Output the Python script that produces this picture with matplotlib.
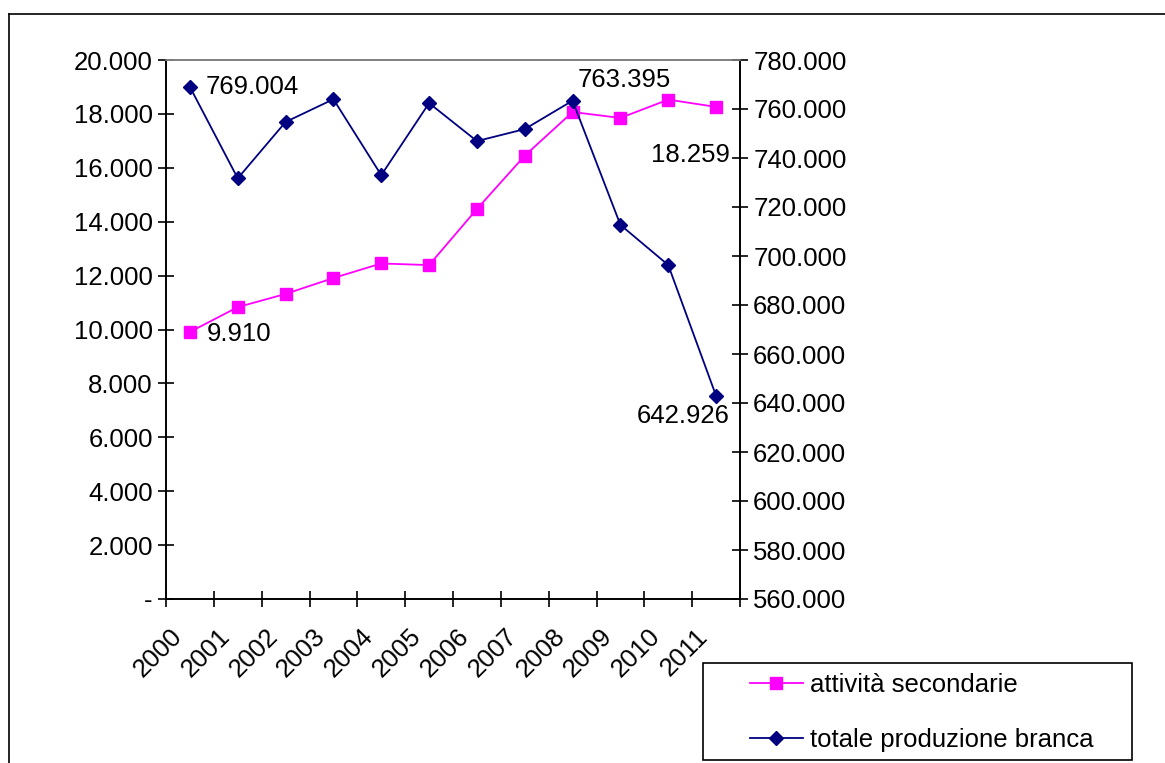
import matplotlib.pyplot as plt
from matplotlib.lines import Line2D
from matplotlib.patches import Rectangle
from matplotlib.ticker import FuncFormatter

plt.rcParams['font.family'] = ['Liberation Sans', 'DejaVu Sans']

years = ['2000', '2001', '2002', '2003', '2004', '2005',
         '2006', '2007', '2008', '2009', '2010', '2011']
attivita_secondarie = [9910, 10830, 11320, 11910, 12450, 12390,
                       14470, 16450, 18070, 17850, 18530, 18259]
totale_produzione = [769004, 731700, 754700, 764000, 733000, 762400,
                     746900, 751800, 763395, 712700, 696300, 642926]

PINK = '#FF00FF'
NAVY = '#000080'
FS = 18.5
W, H = 1165, 763


def fmt_thousands(v, pos=None):
    if abs(v) < 0.5:
        return '-'
    return f'{int(round(v)):,}'.replace(',', '.')


fig = plt.figure(figsize=(W / 100, H / 100), dpi=100)
ax = fig.add_axes([166 / W, 1 - 599 / H, (740 - 166) / W, (599 - 60) / H])
ax2 = ax.twinx()

x = list(range(len(years)))
ax.plot(x, attivita_secondarie, color=PINK, marker='s', markersize=8, lw=1.3,
        label='attività secondarie', zorder=3)
ax2.plot(x, totale_produzione, color=NAVY, marker='D', markersize=7, lw=1.3,
         label='totale produzione branca', zorder=3)

ax.set_xlim(-0.5, len(years) - 0.5)
ax.set_ylim(0, 20000)
ax.set_yticks(range(0, 20001, 2000))
ax.yaxis.set_major_formatter(FuncFormatter(fmt_thousands))
ax2.set_ylim(560000, 780000)
ax2.set_yticks(range(560000, 780001, 20000))
ax2.yaxis.set_major_formatter(FuncFormatter(fmt_thousands))

# tick marks on category boundaries, labels (invisible minor ticks) a bit
# left of the centre so the rotated text ends under the category
ax.set_xticks([i - 0.5 for i in range(len(years) + 1)])
ax.set_xticklabels([])
ax.set_xticks([i - 0.42 for i in x], minor=True)
ax.set_xticklabels(years, minor=True, rotation=45, ha='right',
                   rotation_mode='anchor', fontsize=FS)
ax.tick_params(axis='x', which='major', direction='inout', length=11, width=1.2)
ax.tick_params(axis='x', which='minor', length=0, pad=18)
ax.tick_params(axis='y', direction='inout', length=11, width=1.2, labelsize=FS, pad=4)
ax2.tick_params(axis='y', direction='inout', length=11, width=1.2, labelsize=FS, pad=4)

for a in (ax, ax2):
    for side in ('left', 'right', 'bottom'):
        a.spines[side].set_color('black')
        a.spines[side].set_linewidth(1.2)
    a.spines['top'].set_color('#808080')
    a.spines['top'].set_linewidth(1.2)

# data labels
k = 72 / 100
ax2.annotate('769.004', (0, totale_produzione[0]), xytext=(16 * k, 0),
             textcoords='offset points', ha='left', va='center', fontsize=FS)
ax2.annotate('763.395', (8, totale_produzione[8]), xytext=(5 * k, 21 * k),
             textcoords='offset points', ha='left', va='center', fontsize=FS)
ax2.annotate('642.926', (11, totale_produzione[11]), xytext=(-33 * k, -20 * k),
             textcoords='offset points', ha='center', va='center', fontsize=FS)
ax.annotate('9.910', (0, attivita_secondarie[0]), xytext=(17 * k, -2 * k),
            textcoords='offset points', ha='left', va='center', fontsize=FS)
ax.annotate('18.259', (11, attivita_secondarie[11]), xytext=(14 * k, -48 * k),
            textcoords='offset points', ha='right', va='center', fontsize=FS)

# legend: entries without frame, box drawn separately
h1, l1 = ax.get_legend_handles_labels()
h2, l2 = ax2.get_legend_handles_labels()
fig.legend(h1 + h2, l1 + l2, loc='center left',
           bbox_to_anchor=(750 / W, 1 - 712.5 / H), fontsize=FS,
           frameon=False, handlelength=2.05, handletextpad=0.28,
           labelspacing=1.2, borderpad=0, borderaxespad=0)
fig.add_artist(Rectangle((703 / W, 1 - 760 / H), (1132 - 703) / W, 97 / H,
                         transform=fig.transFigure, fill=False,
                         edgecolor='black', lw=1.2))

# outer chart frame (extends past the right and bottom edges)
fig.add_artist(Line2D([9 / W, 9 / W], [0, 1 - 14 / H], color='black', lw=1.2))
fig.add_artist(Line2D([9 / W, 1], [1 - 14 / H, 1 - 14 / H], color='black', lw=1.2))

fig.savefig('out.png', dpi=100)
